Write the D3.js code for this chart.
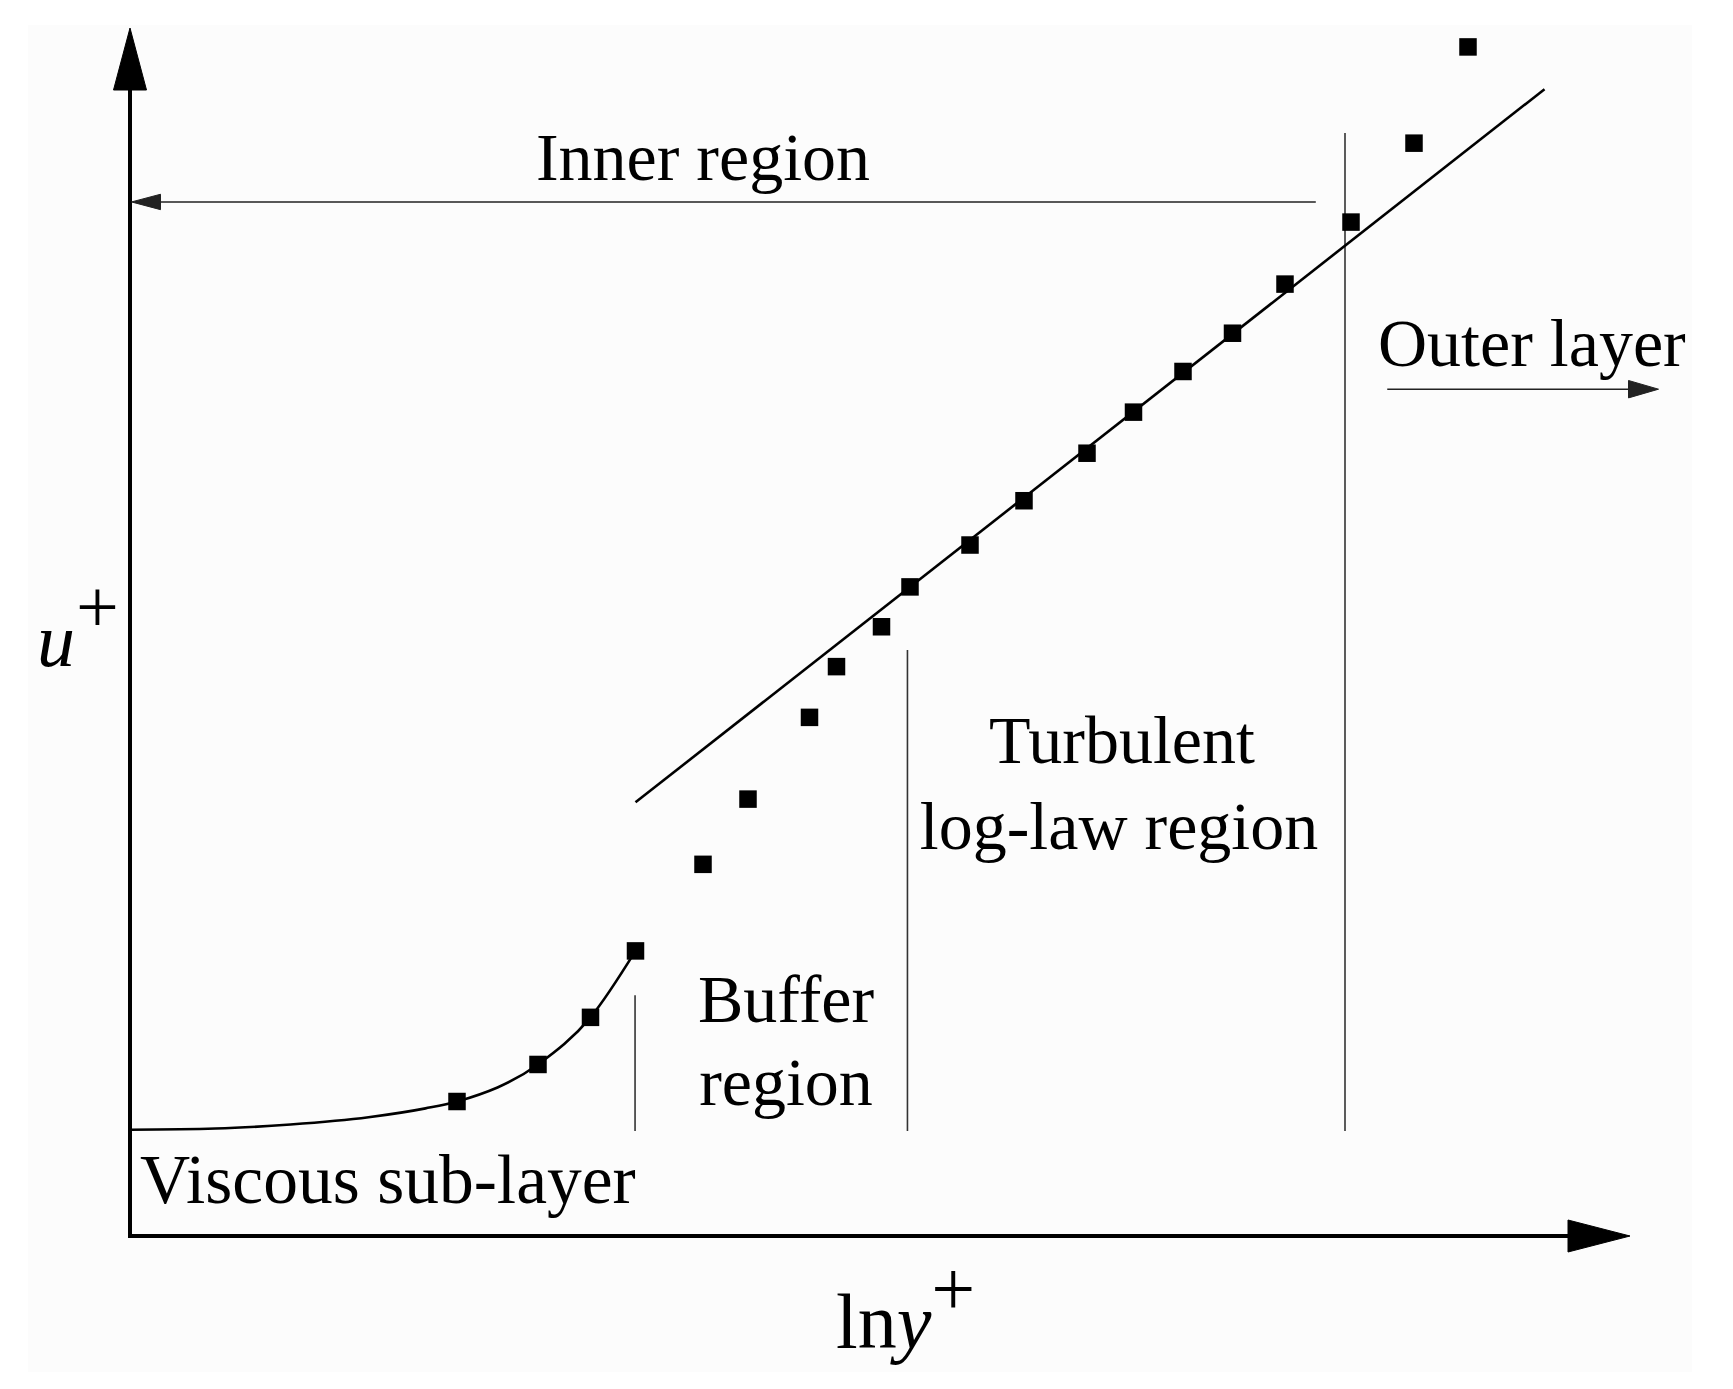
<!DOCTYPE html>
<html>
<head>
<meta charset="utf-8">
<script src="https://cdn.jsdelivr.net/npm/d3@7"></script>
<style>
  body { margin: 0; background: #ffffff; }
  text { font-family: "Liberation Serif", "Times New Roman", serif; fill: #000; }
</style>
</head>
<body>
<script>

// measured points (lny+ , u+) in arbitrary chart units
var markerX = [2.18, 2.72, 3.07, 3.37, 3.82, 4.12, 4.53, 4.71, 5.01, 5.20, 5.60, 5.96, 6.38, 6.69, 7.02, 7.35, 7.70, 8.14, 8.56, 8.92];
var markerY = [3.34, 4.26, 5.43, 7.08, 9.23, 10.85, 12.88, 14.14, 15.13, 16.12, 17.16, 18.26, 19.44, 20.46, 21.47, 22.42, 23.64, 25.18, 27.14, 29.53];

// viscous sub-layer curve
var viscousX = [0, 0.57, 1.07, 1.59, 1.97, 2.18, 2.72, 3.07, 3.37];
var viscousY = [2.64, 2.67, 2.77, 2.95, 3.17, 3.34, 4.26, 5.43, 7.08];

// log-law straight line
var logLawX = [3.37, 9.43];
var logLawY = [10.77, 28.48];

// region boundaries (vertical lines)
var boundaryX = [3.367, 5.183, 8.1];
var boundaryTop = [5.98, 14.55, 27.39];
var boundaryBottom = 2.61;

// region arrows: inner (pointing left), outer (pointing right)
var innerArrowX = [7.9, 0.01];
var innerArrowY = 25.68;
var outerArrowX = [8.387, 10.19];
var outerArrowY = 21.03;

var width = 1733;
var height = 1389;

var x = d3.scaleLinear().domain([0, 10]).range([130, 1630]);
var y = d3.scaleLinear().domain([0, 30]).range([1236, 28]);

var svg = d3.select("body")
    .append("svg")
    .attr("width", width)
    .attr("height", height);

// faint paper background
svg.append("rect")
    .attr("x", 28)
    .attr("y", 25)
    .attr("width", 1664)
    .attr("height", 1347)
    .style("fill", "#fcfcfc");

// draws a line with a filled triangular head at (x2, y2)
function arrow(x1, y1, x2, y2, headLen, headHalf, strokeW, color) {
    var ang = Math.atan2(y2 - y1, x2 - x1);
    var bx = x2 - headLen * Math.cos(ang);
    var by = y2 - headLen * Math.sin(ang);
    svg.append("line")
        .attr("x1", x1).attr("y1", y1)
        .attr("x2", bx).attr("y2", by)
        .style("stroke", color)
        .style("stroke-width", strokeW)
        .style("stroke-linecap", "square");
    var px = -Math.sin(ang) * headHalf;
    var py = Math.cos(ang) * headHalf;
    svg.append("path")
        .attr("d", "M" + x2 + "," + y2 +
            "L" + (bx + px) + "," + (by + py) +
            "L" + (bx - px) + "," + (by - py) + "Z")
        .style("fill", color)
        .style("stroke", color)
        .style("stroke-width", 1)
        .style("stroke-linejoin", "round");
}

// axes
arrow(x(0), y(0), x(10), y(0), 62, 16, 4, "#000");
arrow(x(0), y(0), x(0), y(30), 62, 16.5, 4, "#000");

// region boundaries
svg.selectAll(".boundary")
    .data(boundaryX)
    .enter()
    .append("line")
    .attr("class", "boundary")
    .attr("x1", function (d) { return x(d); })
    .attr("x2", function (d) { return x(d); })
    .attr("y1", function (d, i) { return y(boundaryTop[i]); })
    .attr("y2", y(boundaryBottom))
    .style("stroke", "#333")
    .style("stroke-width", 1.6);

// inner / outer arrows
arrow(x(innerArrowX[0]), y(innerArrowY), x(innerArrowX[1]), y(innerArrowY), 29, 7.7, 1.6, "#222");
arrow(x(outerArrowX[0]), y(outerArrowY), x(outerArrowX[1]), y(outerArrowY), 30, 8.7, 1.6, "#222");

// viscous curve
var viscousPts = viscousX.map(function (d, i) { return [d, viscousY[i]]; });
var curve = d3.line()
    .x(function (d) { return x(d[0]); })
    .y(function (d) { return y(d[1]); })
    .curve(d3.curveMonotoneX);
svg.append("path")
    .attr("d", curve(viscousPts))
    .style("fill", "none")
    .style("stroke", "#000")
    .style("stroke-width", 2.6);

// log-law line
svg.append("line")
    .attr("x1", x(logLawX[0]))
    .attr("y1", y(logLawY[0]))
    .attr("x2", x(logLawX[1]))
    .attr("y2", y(logLawY[1]))
    .style("stroke", "#000")
    .style("stroke-width", 2.6);

// square markers
var ms = 17.5;
svg.selectAll(".pt")
    .data(markerX)
    .enter()
    .append("rect")
    .attr("class", "pt")
    .attr("x", function (d) { return x(d) - ms / 2; })
    .attr("y", function (d, i) { return y(markerY[i]) - ms / 2; })
    .attr("width", ms)
    .attr("height", ms)
    .style("fill", "#000");

// labels
var fs = "68px";
svg.append("text")
    .attr("x", 703).attr("y", 180)
    .attr("text-anchor", "middle")
    .style("font-size", fs)
    .text("Inner region");

svg.append("text")
    .attr("x", 1378).attr("y", 366)
    .style("font-size", fs)
    .text("Outer layer");

svg.append("text")
    .attr("x", 1122).attr("y", 763)
    .attr("text-anchor", "middle")
    .style("font-size", fs)
    .text("Turbulent");

svg.append("text")
    .attr("x", 1119).attr("y", 849)
    .attr("text-anchor", "middle")
    .style("font-size", fs)
    .text("log-law region");

svg.append("text")
    .attr("x", 786).attr("y", 1022)
    .attr("text-anchor", "middle")
    .style("font-size", fs)
    .text("Buffer");

svg.append("text")
    .attr("x", 786).attr("y", 1105)
    .attr("text-anchor", "middle")
    .style("font-size", fs)
    .text("region");

svg.append("text")
    .attr("x", 140).attr("y", 1203)
    .style("font-size", "69.5px")
    .text("Viscous sub-layer");

// axis titles
var uLab = svg.append("text")
    .attr("x", 37).attr("y", 666)
    .style("font-size", "76px");
uLab.append("tspan")
    .style("font-style", "italic")
    .text("u");
uLab.append("tspan")
    .attr("dx", 1)
    .attr("dy", -34)
    .text("+");

var xLab = svg.append("text")
    .attr("x", 836).attr("y", 1348)
    .style("font-size", "78px");
xLab.append("tspan").text("ln");
xLab.append("tspan")
    .style("font-style", "italic")
    .text("y");
xLab.append("tspan")
    .attr("dx", 0)
    .attr("dy", -33)
    .text("+");

</script>
</body>
</html>
